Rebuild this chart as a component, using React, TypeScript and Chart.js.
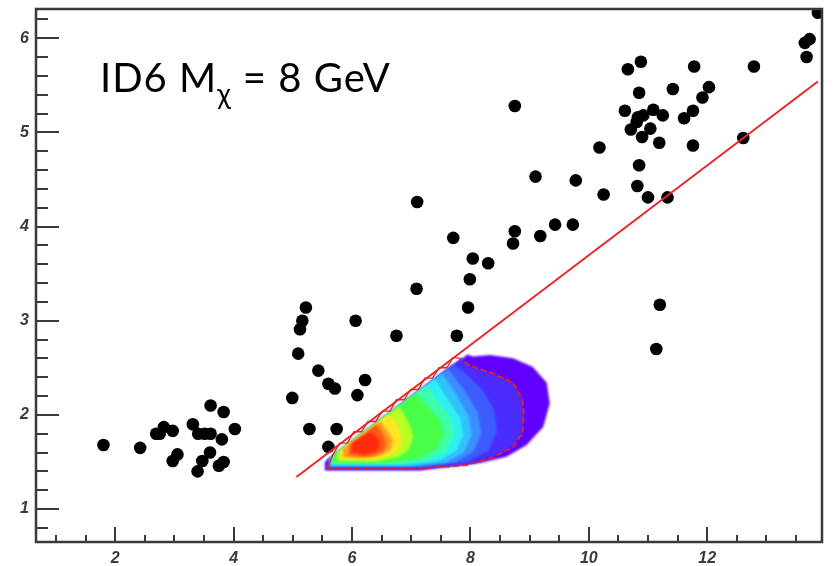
import React, { useEffect, useRef } from 'react';
import { Chart, registerables } from 'chart.js';

Chart.register(...registerables);

// ---- axes ----
const xRange = [0.66, 13.94];
const yRange = [0.65, 6.31];
const xTickValues = [2, 4, 6, 8, 10, 12];
const yTickValues = [1, 2, 3, 4, 5, 6];
const xMinorStep = 0.5;
const yMinorStep = 0.2;

// ---- black event markers ----
const eventX = [
  1.8, 2.42, 2.69, 2.75, 2.82, 2.97, 3.05, 2.97, 3.31, 3.4, 3.51, 3.61, 3.61, 3.83, 4.02, 3.8, 3.6, 3.47, 3.39, 3.83, 3.75,
  5.22, 5.16, 5.12, 6.06, 6.75, 5.09, 5.43, 5.6, 5.71, 6.22, 6.09, 4.99, 5.28, 5.74, 5.6,
  7.1, 7.09, 7.71, 7.99, 7.96, 7.77, 8.04, 8.3, 8.75, 8.72, 8.75, 9.18, 9.43, 9.73, 9.1, 9.78, 10.25, 10.18,
  10.66, 10.88, 10.85, 11.42, 11.78, 12.03, 11.92, 10.61, 11.09, 10.92, 10.83, 10.81, 11.25, 11.76, 11.61, 10.71,
  11.04, 10.9, 11.19, 11.76, 12.61, 10.85, 10.82, 11.0, 11.33, 12.79, 13.87, 13.73, 13.65, 13.68, 11.2, 11.14,
];
const eventY = [
  1.68, 1.65, 1.8, 1.8, 1.87, 1.83, 1.58, 1.51, 1.9, 1.8, 1.8, 1.8, 2.1, 2.03, 1.85, 1.74, 1.6, 1.51, 1.4, 1.5, 1.46,
  3.14, 3.0, 2.91, 3.0, 2.84, 2.65, 2.47, 2.33, 2.28, 2.37, 2.21, 2.18, 1.85, 1.85, 1.66,
  4.26, 3.34, 3.88, 3.44, 3.14, 2.84, 3.66, 3.61, 3.95, 3.82, 5.28, 3.9, 4.02, 4.02, 4.53, 4.49, 4.34, 4.84,
  5.67, 5.75, 5.42, 5.46, 5.7, 5.48, 5.37, 5.23, 5.24, 5.18, 5.16, 5.11, 5.18, 5.23, 5.15, 5.03,
  5.04, 4.95, 4.89, 4.86, 4.94, 4.65, 4.43, 4.31, 4.31, 5.7, 6.27, 5.99, 5.95, 5.8, 3.17, 2.7,
];

// ---- red cut line ----
const cutLineX = [5.06, 13.87];
const cutLineY = [1.34, 5.54];

// ---- signal contour levels (outer -> inner), [x, y] vertices ----
const levelViolet = [[5.54, 1.41], [7.15, 1.41], [8.16, 1.49], [8.61, 1.555], [8.95, 1.68], [9.23, 1.87], [9.34, 2.12], [9.29, 2.34], [9.05, 2.51], [8.72, 2.6], [8.33, 2.635], [8.04, 2.62], [7.95, 2.64], [5.54, 1.5]];
const levelIndigo = [[5.58, 1.43], [7.15, 1.43], [7.94, 1.47], [8.38, 1.55], [8.72, 1.66], [8.88, 1.81], [8.9, 2.0], [8.88, 2.16], [8.72, 2.34], [8.38, 2.44], [8.0, 2.52], [7.85, 2.6], [5.58, 1.52]];
const levelBlue = [[5.6, 1.44], [7.15, 1.44], [7.95, 1.5], [8.3, 1.62], [8.45, 1.82], [8.4, 2.05], [8.2, 2.27], [7.9, 2.45], [7.72, 2.54], [5.6, 1.53]];
const levelLightBlue = [[5.62, 1.45], [7.1, 1.45], [7.75, 1.5], [8.05, 1.61], [8.18, 1.8], [8.13, 2.02], [7.92, 2.24], [7.62, 2.49], [5.62, 1.54]];
const levelSky = [[5.63, 1.46], [7.0, 1.46], [7.6, 1.5], [7.9, 1.61], [8.02, 1.79], [7.97, 1.99], [7.78, 2.2], [7.52, 2.44], [5.63, 1.54]];
const levelCyan = [[5.64, 1.47], [6.9, 1.47], [7.45, 1.51], [7.76, 1.62], [7.88, 1.79], [7.83, 1.97], [7.62, 2.16], [7.4, 2.38], [5.64, 1.55]];
const levelAqua = [[5.66, 1.48], [6.8, 1.48], [7.3, 1.52], [7.6, 1.62], [7.72, 1.78], [7.68, 1.95], [7.48, 2.12], [7.25, 2.31], [5.66, 1.56]];
const levelGreen = [[5.68, 1.49], [6.6, 1.49], [7.1, 1.53], [7.42, 1.63], [7.55, 1.78], [7.5, 1.93], [7.3, 2.08], [7.08, 2.23], [5.68, 1.57]];
const levelLime = [[5.75, 1.51], [6.4, 1.505], [6.78, 1.55], [6.97, 1.64], [7.03, 1.77], [6.97, 1.9], [6.8, 2.09], [5.75, 1.6]];
const levelYellow = [[5.8, 1.53], [6.3, 1.52], [6.62, 1.56], [6.8, 1.64], [6.85, 1.75], [6.78, 1.87], [6.62, 2.01], [5.8, 1.62]];
const levelOrange = [[5.85, 1.55], [6.2, 1.54], [6.5, 1.57], [6.66, 1.64], [6.69, 1.73], [6.6, 1.82], [6.48, 1.93], [5.85, 1.64]];
const levelRedOrange = [[5.95, 1.57], [6.3, 1.56], [6.5, 1.6], [6.58, 1.67], [6.55, 1.76], [6.42, 1.9], [5.95, 1.68]];
const levelRed = [[6.0, 1.6], [6.2, 1.58], [6.4, 1.61], [6.47, 1.67], [6.44, 1.74], [6.32, 1.82], [6.0, 1.7]];

const contourLevels = [levelViolet, levelIndigo, levelBlue, levelLightBlue, levelSky, levelCyan, levelAqua, levelGreen, levelLime, levelYellow, levelOrange, levelRedOrange, levelRed];
const contourColors = ['#6000ff', '#4a2cff', '#3c5cff', '#3c8eff', '#30c2ff', '#2ef0f0', '#3cffaa', '#48ff48', '#b8ff24', '#ffe424', '#ff9a1e', '#ff5a14', '#ff2a10'];

// dashed red contour (bottom + right arc) and saw-tooth edge along the cut
const contourLine = [[5.58, 1.43], [7.15, 1.43], [7.94, 1.47], [8.38, 1.55], [8.72, 1.66], [8.88, 1.81], [8.9, 2.0], [8.88, 2.16], [8.72, 2.34], [8.38, 2.44], [8.0, 2.52], [7.82, 2.6]];
const sawEdge = [[7.82, 2.6], [7.71, 2.61], [7.6, 2.5], [7.47, 2.5], [7.36, 2.39], [7.23, 2.39], [7.12, 2.27], [6.99, 2.27], [6.88, 2.16], [6.75, 2.16], [6.64, 2.04], [6.51, 2.04], [6.4, 1.93], [6.27, 1.93], [6.16, 1.82], [6.03, 1.82], [5.92, 1.7], [5.79, 1.7], [5.68, 1.58], [5.58, 1.43]];

const toPts = (arr: number[][]) => arr.map(([x, y]) => ({ x, y }));

const contourPlugin = {
  id: 'contourFill',
  beforeDatasetsDraw(chart: any) {
    const { ctx, chartArea: a, scales } = chart;
    const xs = scales.x, ys = scales.y;
    ctx.save();
    ctx.beginPath();
    ctx.rect(a.left, a.top, a.width, a.height);
    ctx.clip();
    ctx.filter = 'blur(1px)';
    contourLevels.forEach((poly, i) => {
      ctx.beginPath();
      poly.forEach(([x, y], j) => {
        const px = xs.getPixelForValue(x), py = ys.getPixelForValue(y);
        if (j === 0) ctx.moveTo(px, py); else ctx.lineTo(px, py);
      });
      ctx.closePath();
      ctx.fillStyle = contourColors[i];
      ctx.fill();
    });
    ctx.restore();
  },
};

const axesPlugin = {
  id: 'rootAxes',
  afterDatasetsDraw(chart: any) {
    const { ctx, chartArea: a, scales } = chart;
    const xs = scales.x, ys = scales.y;
    ctx.save();
    ctx.strokeStyle = '#3a3a3a';
    ctx.lineWidth = 2;
    ctx.beginPath();
    for (let k = Math.ceil(xRange[0] / xMinorStep); k * xMinorStep <= xRange[1]; k++) {
      const v = k * xMinorStep;
      const major = xTickValues.some((t) => Math.abs(t - v) < 1e-6);
      const px = Math.round(xs.getPixelForValue(v));
      ctx.moveTo(px, a.bottom);
      ctx.lineTo(px, a.bottom - (major ? 15 : 7));
    }
    for (let k = Math.ceil(yRange[0] / yMinorStep - 1e-6); k * yMinorStep <= yRange[1] + 1e-6; k++) {
      const v = k * yMinorStep;
      const major = yTickValues.some((t) => Math.abs(t - v) < 1e-6);
      const py = Math.round(ys.getPixelForValue(v));
      ctx.moveTo(a.left, py);
      ctx.lineTo(a.left + (major ? 23 : 12), py);
    }
    ctx.stroke();
    ctx.lineWidth = 2.5;
    ctx.strokeRect(a.left, a.top, a.width, a.height);
    ctx.restore();
  },
};

export default function App() {
  const ref = useRef<HTMLCanvasElement | null>(null);
  useEffect(() => {
    if (!ref.current) return;
    const tickFont = { family: 'Liberation Sans', size: 16, weight: 'bold' as const, style: 'italic' as const };
    const chart = new Chart(ref.current, {
      type: 'scatter',
      data: {
        datasets: [
          {
            label: 'cut',
            data: cutLineX.map((x, i) => ({ x, y: cutLineY[i] })),
            showLine: true,
            borderColor: '#e8262a',
            borderWidth: 2,
            pointRadius: 0,
          },
          {
            label: 'saw',
            data: toPts(sawEdge),
            showLine: true,
            borderColor: '#e02a2a',
            borderWidth: 1.4,
            pointRadius: 0,
          },
          {
            label: 'contour',
            data: toPts(contourLine),
            showLine: true,
            borderColor: '#e0202a',
            borderWidth: 2,
            borderDash: [6, 3],
            pointRadius: 0,
          },
          {
            label: 'events',
            data: eventX.map((x, i) => ({ x, y: eventY[i] })),
            backgroundColor: '#000000',
            borderColor: '#000000',
            borderWidth: 0,
            pointRadius: 6.3,
            showLine: false,
          },
        ],
      },
      options: {
        animation: false,
        responsive: true,
        maintainAspectRatio: false,
        layout: { padding: { left: 0, right: 14, top: 9, bottom: 0 } },
        plugins: { legend: { display: false }, tooltip: { enabled: false } },
        scales: {
          x: {
            type: 'linear',
            bounds: 'data',
            min: xRange[0],
            max: xRange[1],
            grid: { display: false, drawTicks: false },
            border: { display: false },
            ticks: { font: tickFont, color: '#3a3a3a', padding: 7, maxRotation: 0, autoSkip: false },
            afterBuildTicks: (s: any) => { s.ticks = xTickValues.map((value) => ({ value })); },
            afterFit: (s: any) => { s.height = 24; s.paddingLeft = 0; s.paddingRight = 0; },
          },
          y: {
            type: 'linear',
            bounds: 'data',
            min: yRange[0],
            max: yRange[1],
            grid: { display: false, drawTicks: false },
            border: { display: false },
            ticks: { font: tickFont, color: '#3a3a3a', padding: 7, autoSkip: false },
            afterBuildTicks: (s: any) => { s.ticks = yTickValues.map((value) => ({ value })); },
            afterFit: (s: any) => { s.width = 36; s.paddingTop = 0; s.paddingBottom = 0; },
          },
        },
      },
      plugins: [contourPlugin, axesPlugin],
    });
    return () => chart.destroy();
  }, []);

  return (
    <div style={{ position: 'absolute', left: 0, top: 0, width: 836, height: 566, background: '#fff' }}>
      <canvas ref={ref} />
      <div
        style={{
          position: 'absolute',
          left: 100,
          top: 57,
          fontFamily: 'Lato, "Open Sans", sans-serif',
          fontSize: 40,
          letterSpacing: 1,
          lineHeight: 1,
          color: '#000',
          whiteSpace: 'nowrap',
        }}
      >
        ID6 M<span style={{ fontSize: 28, position: 'relative', top: 12 }}>χ</span> = 8 GeV
      </div>
    </div>
  );
}
